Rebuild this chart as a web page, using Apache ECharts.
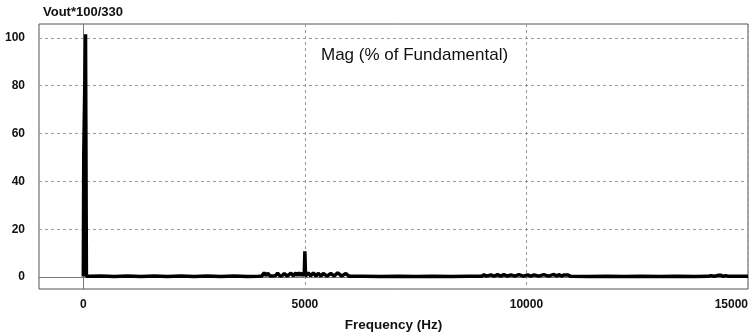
<!DOCTYPE html>
<html>
<head>
<meta charset="utf-8">
<script src="https://cdn.jsdelivr.net/npm/echarts@6/dist/echarts.min.js"></script>
<style>
  html, body { margin: 0; padding: 0; background: #fff; }
  #spectrum-chart { width: 750px; height: 332px; }
</style>
</head>
<body>
<div id="spectrum-chart"></div>
<script>
// spectrum points (Hz, % of fundamental)
const freqHz = [0, 10, 50, 70, 150, 400, 700, 1000, 1300, 1600, 1900, 2200, 2500, 2800, 3100, 3400, 3700, 3950,
  4030, 4080, 4120, 4160, 4220, 4330, 4385, 4440, 4490, 4535, 4600, 4685, 4740, 4795, 4830, 4870, 4910, 4950,
  4985, 5000, 5015, 5075, 5130, 5190, 5250, 5300, 5360, 5415, 5500, 5585, 5660, 5740, 5830, 5925, 6000,
  6300, 6700, 7100, 7500, 7900, 8300, 8700, 8990, 9040, 9090, 9130, 9200, 9270, 9350, 9420, 9490, 9570, 9650,
  9740, 9830, 9930, 10030, 10100, 10170, 10280, 10390, 10500, 10620, 10680, 10730, 10790, 10850, 10890, 10930,
  11000, 11400, 11800, 12200, 12600, 13000, 13400, 13800, 14100, 14160, 14240, 14320, 14380, 14440, 14500,
  14560, 14800, 15000];
const magPct = [0.2, 51, 101.5, 0.3, 0.3, 0.4, 0.2, 0.4, 0.2, 0.4, 0.2, 0.4, 0.2, 0.4, 0.2, 0.4, 0.2, 0.3,
  0.4, 1.8, 0.6, 1.6, 0.4, 0.5, 1.6, 0.4, 0.6, 1.5, 0.4, 1.6, 0.5, 1.8, 0.6, 1.8, 0.6, 1.7,
  0.4, 10.8, 0.4, 1.8, 0.5, 1.7, 0.4, 1.6, 0.4, 1.5, 0.4, 1.5, 0.4, 1.8, 0.4, 1.5, 0.3,
  0.3, 0.2, 0.3, 0.2, 0.3, 0.2, 0.3, 0.3, 1.0, 0.4, 1.1, 0.9, 0.4, 1.0, 0.4, 1.0, 0.4, 0.9,
  0.4, 1.0, 0.4, 0.9, 0.4, 0.9, 0.4, 1.0, 0.4, 1.1, 0.4, 1.0, 0.4, 0.9, 0.4, 0.9,
  0.3, 0.2, 0.3, 0.2, 0.3, 0.2, 0.3, 0.2, 0.3, 0.6, 0.3, 0.7, 0.8, 0.3, 0.6,
  0.3, 0.3, 0.3];
const xTicks = [0, 5000, 10000, 15000];
const yTicks = [0, 20, 40, 60, 80, 100];

let spectrumChart = echarts.init(document.getElementById('spectrum-chart'));

let seriesData = freqHz.map((f, i) => [f, magPct[i]]);

let spectrumOption = {
  backgroundColor: '#fff',
  animation: false,
  textStyle: { fontFamily: 'Liberation Sans, Arial, sans-serif' },
  title: [
    {
      text: 'Vout*100/330',
      left: 38,
      top: 1,
      textStyle: { fontSize: 13, fontWeight: 'bold', color: '#111' }
    },
    {
      text: 'Mag (% of Fundamental)',
      left: 316,
      top: 42,
      textStyle: { fontSize: 17, fontWeight: 'normal', color: '#111' }
    }
  ],
  grid: {
    left: 39,
    top: 24,
    right: 2,
    bottom: 43,
    outerBoundsMode: 'none',
    containLabel: false,
    show: true,
    borderColor: '#555',
    borderWidth: 1
  },
  xAxis: {
    type: 'value',
    min: -1000,
    max: 15000,
    name: 'Frequency (Hz)',
    nameLocation: 'middle',
    nameGap: 29,
    nameTextStyle: { fontSize: 13.5, fontWeight: 'bold', color: '#111' },
    axisLine: { show: true, lineStyle: { color: '#777' } },
    axisTick: { show: false, customValues: xTicks },
    axisLabel: {
      customValues: xTicks,
      formatter: v => String(v),
      fontSize: 12,
      fontWeight: 'bold',
      color: '#111',
      margin: 10,
      alignMaxLabel: 'right'
    },
    splitLine: {
      show: true,
      lineStyle: { color: '#999', type: [3, 3], width: 1 }
    }
  },
  yAxis: {
    type: 'value',
    min: -5,
    max: 105.8,
    axisLine: { show: true, lineStyle: { color: '#777' } },
    axisTick: { show: false, customValues: yTicks },
    axisLabel: {
      customValues: yTicks,
      formatter: v => String(v),
      fontSize: 12,
      fontWeight: 'bold',
      color: '#111',
      margin: 14
    },
    splitLine: {
      show: true,
      lineStyle: { color: '#999', type: [3, 3], width: 1 }
    }
  },
  series: [
    {
      name: 'Mag',
      type: 'line',
      data: seriesData,
      symbol: 'none',
      lineStyle: { color: '#000', width: 3.5 },
      z: 3
    }
  ]
};
spectrumChart.setOption(spectrumOption);
</script>
</body>
</html>
